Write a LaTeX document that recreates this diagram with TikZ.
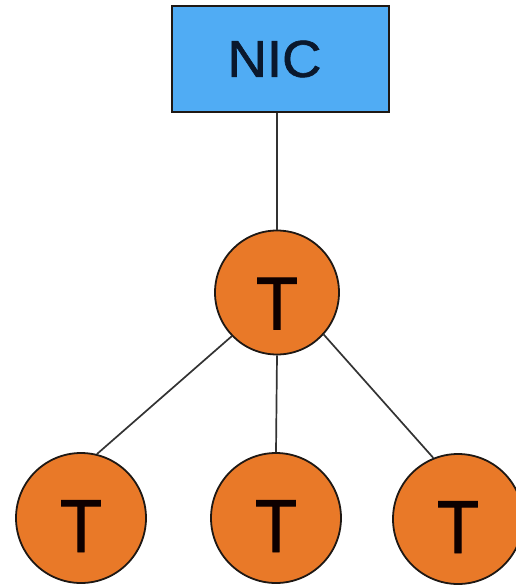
\documentclass[tikz,border=0pt]{standalone}
\usepackage{fontspec}
\usepackage{graphicx}
\setmainfont{Liberation Sans}
\newfontfamily\lblfont{Liberation Sans}[FakeBold=1.2]
\definecolor{nicblue}{RGB}{80,172,244}
\definecolor{torange}{RGB}{233,121,40}
\definecolor{edge}{RGB}{30,24,20}
\definecolor{nictext}{RGB}{10,24,45}
\begin{document}
\begin{tikzpicture}[x=1pt,y=-1pt,
  nicbox/.style={draw=edge, line width=1.8pt, fill=nicblue, minimum width=217pt,
    minimum height=106pt, inner sep=0pt, text=nictext,
    font=\lblfont\fontsize{52}{52}\selectfont},
  tnode/.style={circle, draw=edge, line width=1.8pt, fill=torange, inner sep=0pt,
    text depth=0pt, text=black!95!red, font=\lblfont\fontsize{75}{75}\selectfont},
  link/.style={draw=black!80, line width=1.7pt}]
\useasboundingbox (0,0) rectangle (516,587);
\clip (0,0) rectangle (516,587);

% network interface and the tree of T nodes below it
\node[nicbox] (nic) at (280.5,59) {\hspace*{-12pt}\scalebox{1.05}[1]{NIC}};
\node[tnode, minimum size=124pt, text height=74pt] (top) at (277,292.5) {\scalebox{0.92}[1]{T}};
\node[tnode, minimum size=130pt, text height=68pt] (l) at (81,518) {\scalebox{0.92}[1]{T}};
\node[tnode, minimum size=130pt, text height=68pt] (m) at (276,518) {\scalebox{0.92}[1]{T}};
\node[tnode, minimum size=130pt, text height=68pt] (r) at (458,519) {\scalebox{0.92}[1]{T}};

% connectors
\draw[link] (nic.south -| top.north) -- (top.north);
\draw[link] (top.224) -- (l.76);
\draw[link] (top.south) -- (m.north);
\draw[link] (top.318) -- (r.112);
\end{tikzpicture}
\end{document}
